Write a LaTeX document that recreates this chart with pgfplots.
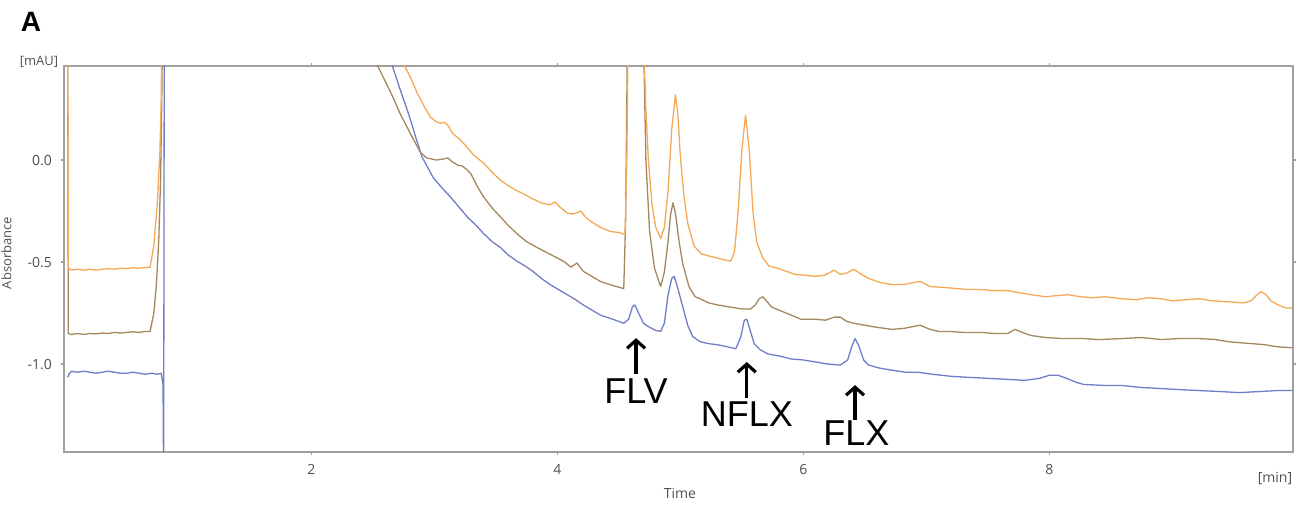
\documentclass[border=0pt]{standalone}
\usepackage{fontspec}
\setmainfont{Liberation Sans}
\newfontfamily\tickfont{Open Sans}
\usepackage{pgfplots}
\pgfplotsset{compat=1.18}
\usetikzlibrary{arrows.meta}
\definecolor{corange}{RGB}{245,168,85}
\definecolor{cbrown}{RGB}{165,135,95}
\definecolor{cblue}{RGB}{110,125,200}
\definecolor{axgray}{RGB}{160,160,160}
\definecolor{txgray}{RGB}{80,80,80}
\begin{document}
\begin{tikzpicture}[x=1pt,y=1pt]
\useasboundingbox (0,0) rectangle (653.5,253.5);
\begin{axis}[
  at={(32pt,27.5pt)}, anchor=south west,
  scale only axis, width=614.5pt, height=193pt,
  xmin=-0.01, xmax=9.98, ymin=-1.431, ymax=0.461,
  axis line style={axgray, line width=0.8pt},
  xtick={2,4,6,8}, xticklabels={2,4,6,8},
  ytick={-1,-0.5,0}, yticklabels={-1.0,-0.5,0.0},
  tick align=outside, major tick length=1.5pt,
  tick style={axgray, line width=0.6pt},
  ticklabel style={font=\tickfont\fontsize{7}{8}\selectfont, text=txgray},
  xticklabel style={yshift=-1pt},
  yticklabel style={xshift=-1pt},
  clip=true,
  every axis plot/.append style={line width=0.65pt, line join=round},
]
\addplot[cblue] coordinates {
(0.02,-1.065)(0.03,-1.05)(0.05,-1.035)(0.1,-1.04)(0.15,-1.035)(0.2,-1.04)(0.25,-1.045)(0.3,-1.04)(0.35,-1.035)(0.4,-1.04)(0.45,-1.045)(0.5,-1.045)(0.55,-1.04)(0.6,-1.045)(0.65,-1.05)(0.7,-1.045)(0.75,-1.05)(0.78,-1.045)(0.795,-1.1)(0.80,-1.6)(0.805,0.6)(0.82,1.5)(2.5,1.5)(2.64,0.56)(2.66,0.46)(2.72,0.35)(2.80,0.21)(2.85,0.11)(2.90,0.015)(2.99,-0.085)(3.06,-0.135)(3.13,-0.18)(3.20,-0.23)(3.27,-0.28)(3.34,-0.32)(3.40,-0.36)(3.47,-0.40)(3.54,-0.43)(3.60,-0.465)(3.67,-0.495)(3.74,-0.52)(3.80,-0.545)(3.87,-0.58)(3.94,-0.61)(4.01,-0.635)(4.08,-0.66)(4.15,-0.685)(4.21,-0.71)(4.28,-0.735)(4.35,-0.76)(4.45,-0.78)(4.54,-0.80)(4.58,-0.78)(4.61,-0.72)(4.63,-0.71)(4.66,-0.75)(4.70,-0.80)(4.75,-0.82)(4.80,-0.835)(4.84,-0.84)(4.87,-0.80)(4.90,-0.66)(4.93,-0.58)(4.95,-0.57)(4.98,-0.63)(5.02,-0.72)(5.06,-0.81)(5.10,-0.865)(5.16,-0.89)(5.23,-0.90)(5.30,-0.905)(5.38,-0.915)(5.45,-0.925)(5.49,-0.87)(5.52,-0.785)(5.54,-0.78)(5.57,-0.84)(5.60,-0.90)(5.65,-0.93)(5.71,-0.95)(5.80,-0.96)(5.90,-0.975)(6.00,-0.98)(6.10,-0.99)(6.20,-1.0)(6.30,-1.005)(6.36,-0.98)(6.39,-0.92)(6.42,-0.875)(6.45,-0.91)(6.49,-0.98)(6.53,-1.005)(6.62,-1.02)(6.72,-1.03)(6.83,-1.04)(6.93,-1.04)(7.05,-1.05)(7.20,-1.06)(7.34,-1.065)(7.50,-1.07)(7.66,-1.075)(7.80,-1.08)(7.92,-1.07)(8.00,-1.055)(8.07,-1.055)(8.14,-1.07)(8.22,-1.09)(8.28,-1.10)(8.45,-1.105)(8.59,-1.105)(8.75,-1.115)(8.91,-1.12)(9.05,-1.125)(9.22,-1.13)(9.40,-1.135)(9.54,-1.14)(9.70,-1.135)(9.85,-1.13)(9.97,-1.13)
};
\addplot[cbrown] coordinates {
(0.02,0.6)(0.025,-0.85)(0.05,-0.855)(0.1,-0.85)(0.15,-0.855)(0.2,-0.85)(0.25,-0.852)(0.3,-0.848)(0.35,-0.85)(0.4,-0.845)(0.45,-0.848)(0.5,-0.845)(0.55,-0.842)(0.6,-0.845)(0.65,-0.84)(0.69,-0.84)(0.72,-0.75)(0.74,-0.62)(0.76,-0.40)(0.775,-0.1)(0.785,0.3)(0.79,0.6)(1.0,1.5)(2.4,1.5)(2.52,0.56)(2.54,0.46)(2.59,0.40)(2.67,0.30)(2.72,0.23)(2.78,0.16)(2.84,0.09)(2.89,0.035)(2.94,0.01)(3.02,0.0)(3.07,0.005)(3.11,0.01)(3.15,-0.01)(3.19,-0.025)(3.23,-0.03)(3.27,-0.05)(3.30,-0.07)(3.35,-0.13)(3.40,-0.18)(3.47,-0.235)(3.54,-0.28)(3.60,-0.32)(3.67,-0.36)(3.75,-0.40)(3.84,-0.43)(3.92,-0.455)(4.00,-0.48)(4.06,-0.50)(4.11,-0.525)(4.16,-0.505)(4.21,-0.545)(4.28,-0.57)(4.35,-0.595)(4.45,-0.615)(4.54,-0.63)(4.555,-0.3)(4.57,0.6)(4.62,1.5)(4.68,1.5)(4.70,0.6)(4.72,0.0)(4.75,-0.35)(4.79,-0.53)(4.84,-0.62)(4.87,-0.55)(4.90,-0.40)(4.92,-0.27)(4.94,-0.21)(4.96,-0.26)(4.99,-0.40)(5.02,-0.51)(5.07,-0.62)(5.12,-0.67)(5.16,-0.68)(5.23,-0.70)(5.30,-0.71)(5.40,-0.72)(5.50,-0.73)(5.57,-0.73)(5.61,-0.71)(5.64,-0.68)(5.67,-0.67)(5.70,-0.69)(5.74,-0.72)(5.78,-0.73)(5.86,-0.75)(5.98,-0.78)(6.09,-0.78)(6.18,-0.785)(6.25,-0.77)(6.30,-0.77)(6.35,-0.79)(6.41,-0.80)(6.50,-0.81)(6.60,-0.82)(6.72,-0.83)(6.82,-0.825)(6.90,-0.815)(6.95,-0.81)(7.03,-0.83)(7.10,-0.84)(7.19,-0.84)(7.30,-0.845)(7.45,-0.845)(7.55,-0.85)(7.66,-0.85)(7.72,-0.83)(7.78,-0.845)(7.85,-0.86)(7.97,-0.87)(8.10,-0.875)(8.28,-0.875)(8.40,-0.88)(8.59,-0.875)(8.75,-0.87)(8.91,-0.88)(9.05,-0.875)(9.22,-0.875)(9.35,-0.88)(9.45,-0.89)(9.54,-0.895)(9.65,-0.90)(9.75,-0.905)(9.85,-0.915)(9.97,-0.92)
};
\addplot[corange] coordinates {
(0.02,0.6)(0.025,-0.53)(0.05,-0.54)(0.1,-0.535)(0.15,-0.54)(0.2,-0.535)(0.25,-0.54)(0.3,-0.535)(0.35,-0.533)(0.4,-0.535)(0.45,-0.53)(0.5,-0.532)(0.55,-0.528)(0.6,-0.53)(0.65,-0.527)(0.69,-0.525)(0.72,-0.42)(0.75,-0.2)(0.77,0.05)(0.78,0.3)(0.785,0.6)(1.0,1.5)(2.6,1.5)(2.74,0.56)(2.76,0.46)(2.81,0.40)(2.86,0.33)(2.92,0.26)(2.97,0.21)(3.01,0.19)(3.05,0.18)(3.08,0.185)(3.11,0.17)(3.15,0.13)(3.21,0.10)(3.27,0.06)(3.32,0.025)(3.40,-0.015)(3.47,-0.06)(3.54,-0.10)(3.60,-0.125)(3.67,-0.15)(3.74,-0.17)(3.80,-0.19)(3.87,-0.21)(3.94,-0.22)(3.98,-0.205)(4.02,-0.23)(4.08,-0.26)(4.13,-0.265)(4.19,-0.25)(4.23,-0.28)(4.27,-0.30)(4.35,-0.33)(4.43,-0.35)(4.50,-0.355)(4.55,-0.365)(4.565,0.0)(4.575,0.6)(4.62,1.5)(4.68,1.5)(4.70,0.6)(4.72,0.25)(4.74,0.0)(4.77,-0.22)(4.80,-0.33)(4.84,-0.385)(4.87,-0.33)(4.90,-0.15)(4.93,0.15)(4.96,0.32)(4.98,0.22)(5.00,0.02)(5.03,-0.18)(5.06,-0.31)(5.11,-0.42)(5.17,-0.46)(5.23,-0.47)(5.30,-0.48)(5.36,-0.49)(5.41,-0.495)(5.44,-0.45)(5.47,-0.25)(5.50,0.05)(5.53,0.22)(5.56,0.05)(5.59,-0.25)(5.62,-0.40)(5.67,-0.48)(5.72,-0.52)(5.79,-0.53)(5.86,-0.545)(5.93,-0.56)(6.02,-0.565)(6.09,-0.57)(6.17,-0.565)(6.25,-0.54)(6.30,-0.56)(6.35,-0.555)(6.41,-0.535)(6.47,-0.56)(6.53,-0.58)(6.62,-0.60)(6.72,-0.61)(6.82,-0.61)(6.90,-0.60)(6.95,-0.595)(7.03,-0.62)(7.15,-0.625)(7.25,-0.63)(7.34,-0.635)(7.45,-0.635)(7.55,-0.64)(7.66,-0.64)(7.75,-0.65)(7.85,-0.66)(7.97,-0.67)(8.05,-0.665)(8.15,-0.66)(8.25,-0.67)(8.35,-0.675)(8.45,-0.67)(8.59,-0.68)(8.70,-0.685)(8.80,-0.675)(8.91,-0.68)(9.00,-0.69)(9.10,-0.685)(9.22,-0.68)(9.32,-0.69)(9.45,-0.695)(9.58,-0.70)(9.64,-0.69)(9.68,-0.665)(9.72,-0.645)(9.76,-0.66)(9.80,-0.69)(9.86,-0.71)(9.92,-0.725)(9.97,-0.725)
};
% annotations
\draw[black, line width=1.6pt, -{Straight Barb[length=4pt,width=9pt,line width=1.6pt]}] (axis cs:4.64,-1.049) -- (axis cs:4.64,-0.873);
\draw[black, line width=1.6pt, -{Straight Barb[length=4pt,width=9pt,line width=1.6pt]}] (axis cs:5.54,-1.167) -- (axis cs:5.54,-0.99);
\draw[black, line width=1.6pt, -{Straight Barb[length=4pt,width=9pt,line width=1.6pt]}] (axis cs:6.42,-1.275) -- (axis cs:6.42,-1.103);
\node[font=\fontsize{18}{20}\selectfont, inner sep=0pt] at (axis cs:4.64,-1.132) {FLV};
\node[font=\fontsize{18}{20}\selectfont, inner sep=0pt] at (axis cs:5.54,-1.245) {NFLX};
\node[font=\fontsize{18}{20}\selectfont, inner sep=0pt] at (axis cs:6.43,-1.338) {FLX};
\end{axis}
\node[font=\bfseries\fontsize{14}{16}\selectfont, inner sep=0pt] at (15.5,242.5) {A};
\node[font=\tickfont\fontsize{6.5}{8}\selectfont, text=txgray, inner sep=0pt] at (19.5,222.5) {[mAU]};
\node[font=\tickfont\fontsize{7}{8}\selectfont, text=txgray, inner sep=0pt] at (340,7) {Time};
\node[font=\tickfont\fontsize{7}{8}\selectfont, text=txgray, inner sep=0pt] at (637.5,14.5) {[min]};
\node[font=\tickfont\fontsize{6.5}{8}\selectfont, text=txgray, inner sep=0pt, rotate=90] at (3.2,127) {Absorbance};
\end{tikzpicture}
\end{document}
